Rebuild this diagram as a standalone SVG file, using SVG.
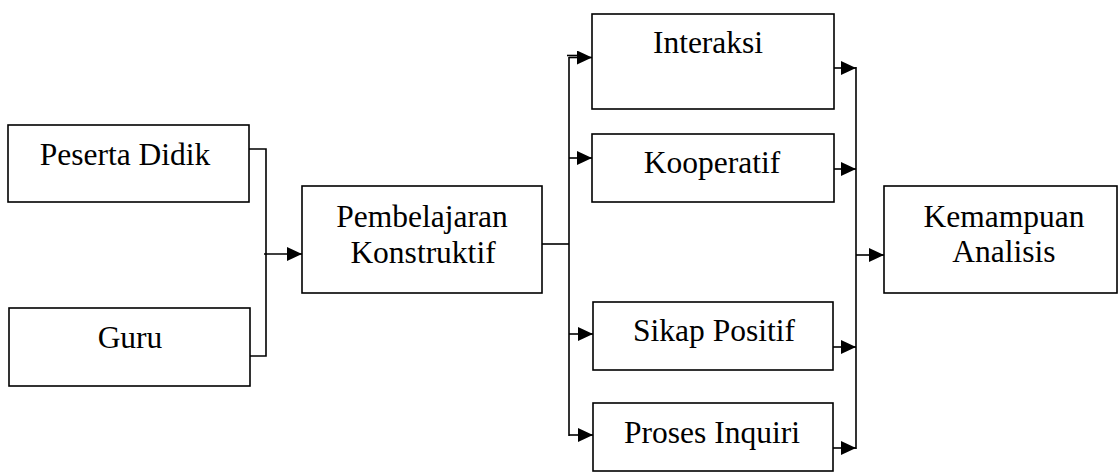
<svg xmlns="http://www.w3.org/2000/svg" width="1118" height="472" viewBox="0 0 1118 472">
<style>
.box{fill:#fff;stroke:#000;stroke-width:1.6}
.ln{fill:none;stroke:#000;stroke-width:1.6}
text{font-family:"Liberation Serif","Times New Roman",serif;font-size:31.5px;fill:#000;text-anchor:middle}
</style>
<defs>
<marker id="ah" markerUnits="userSpaceOnUse" markerWidth="16" markerHeight="16" refX="15" refY="7" orient="auto">
<path d="M0,0 L15,7 L0,14 Z" fill="#000"/>
</marker>
</defs>
<rect width="1118" height="472" fill="#fff"/>
<g id="peserta"><rect class="box" x="8" y="125" width="241" height="77"/><text x="125" y="165">Peserta Didik</text></g>
<g id="guru"><rect class="box" x="9" y="308" width="241" height="78"/><text x="130" y="348">Guru</text></g>
<g id="pembelajaran"><rect class="box" x="302" y="186" width="240" height="107"/><text x="422" y="227">Pembelajaran</text><text x="423" y="263">Konstruktif</text></g>
<g id="interaksi"><rect class="box" x="592" y="14" width="242" height="95"/><text x="708" y="53">Interaksi</text></g>
<g id="kooperatif"><rect class="box" x="592" y="134" width="242" height="68"/><text x="712" y="173">Kooperatif</text></g>
<g id="sikap"><rect class="box" x="593" y="302" width="240" height="68"/><text x="714" y="341">Sikap Positif</text></g>
<g id="proses"><rect class="box" x="593" y="403" width="240" height="68"/><text x="712" y="443">Proses Inquiri</text></g>
<g id="kemampuan"><rect class="box" x="884" y="186" width="233" height="107"/><text x="1004" y="227">Kemampuan</text><text x="1004" y="262">Analisis</text></g>
<g id="connectors">
<polyline class="ln" points="249,149 266,149 266,356 250,356"/>
<line class="ln" x1="264" y1="254" x2="302" y2="254" marker-end="url(#ah)"/>
<line class="ln" x1="542" y1="244" x2="569" y2="244"/>
<line class="ln" x1="569" y1="57" x2="569" y2="436"/>
<line class="ln" x1="567" y1="55.5" x2="580" y2="55.5"/>
<line class="ln" x1="569" y1="57.5" x2="592" y2="57.5" marker-end="url(#ah)"/>
<line class="ln" x1="569" y1="158" x2="592" y2="158" marker-end="url(#ah)"/>
<line class="ln" x1="569" y1="334" x2="593" y2="334" marker-end="url(#ah)"/>
<polyline class="ln" points="569,435 593,435" marker-end="url(#ah)"/>
<line class="ln" x1="834" y1="68" x2="856" y2="68" marker-end="url(#ah)"/>
<line class="ln" x1="834" y1="169" x2="856" y2="169" marker-end="url(#ah)"/>
<line class="ln" x1="833" y1="347" x2="856" y2="347" marker-end="url(#ah)"/>
<line class="ln" x1="833" y1="448" x2="856" y2="448" marker-end="url(#ah)"/>
<line class="ln" x1="856" y1="67" x2="856" y2="449"/>
<line class="ln" x1="856" y1="255" x2="884" y2="255" marker-end="url(#ah)"/>
</g>
</svg>
